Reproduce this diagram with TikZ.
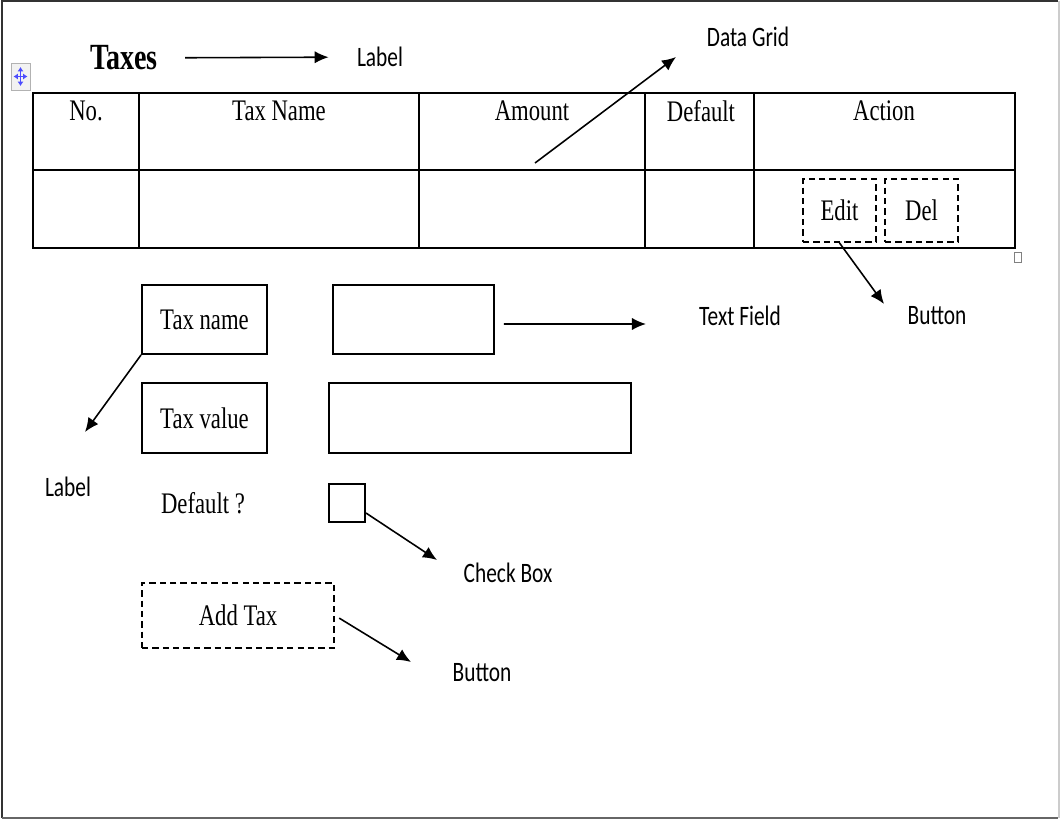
\documentclass[tikz,border=0pt]{standalone}
\usepackage{fontspec}
\setmainfont{Liberation Serif}
\newfontfamily\callout{Carlito}
\usetikzlibrary{arrows.meta,positioning}

\newcommand{\squeeze}[1]{\scalebox{0.76}[1]{#1}}

\begin{document}
\begin{tikzpicture}[x=0.02cm, y=-0.02cm,
  every node/.style={font=\fontsize{17}{20}\selectfont},
  grid/.style={line width=1.1pt},
  field/.style={draw, line width=1.1pt, inner sep=0pt},
  button/.style={draw, line width=1.1pt, dash pattern=on 3.6pt off 2.3pt, inner sep=0pt},
  caption/.style={font=\callout\fontsize{16}{19}\selectfont, inner sep=0pt},
  arr/.style={line width=0.9pt, -{Latex[length=8pt,width=7pt]}}]

\useasboundingbox (0,0) rectangle (1060,820);

% frame of the screenshot
\draw[line width=1.2pt, black!80] (2,818) -- (2,1) -- (1058,1);
\draw[line width=1.5pt, black!60] (2,818) -- (1058,818);
\draw[line width=1pt, black!20] (1059,1) -- (1059,818);

% table handles
\draw[black!30, fill=black!5] (11,63) rectangle (30,90);
\draw[blue!70, line width=0.9pt, {Latex[length=2.5pt,width=3.5pt]}-{Latex[length=2.5pt,width=3.5pt]}] (20.5,67) -- (20.5,86);
\draw[blue!70, line width=0.9pt, {Latex[length=2.5pt,width=3.5pt]}-{Latex[length=2.5pt,width=3.5pt]}] (13.5,76.5) -- (27.5,76.5);
\draw[black!50, fill=white, line width=0.5pt] (1014,252) rectangle (1021,262);

% heading
\node[font=\bfseries\fontsize{21}{24}\selectfont, inner sep=0pt] (title) at (124,58) {\squeeze{Taxes}};
\node[caption] (lbltitle) at (380,57) {\squeeze{Label}};
\draw[arr, shorten <=0.54cm, shorten >=0.56cm] (title) -- (lbltitle);

% data grid
\draw[grid] (33,93) rectangle (1015,248);
\draw[grid] (33,170) -- (1015,170);
\foreach \x in {139,419,645,754}
  \draw[grid] (\x,93) -- (\x,248);
\foreach \x/\t [count=\i] in {86/No.,279/Tax Name,532/Amount,701/Default,884/Action}
  \node (head\i) at (\x,111) {\squeeze{\t}};

\node[button, minimum width=1.46cm, minimum height=1.26cm] (edit) at (839.5,210.5) {\squeeze{Edit}};
\node[button, minimum width=1.46cm, minimum height=1.26cm] (del) at (921.5,210.5) {\squeeze{Del}};

\node[caption] (lblgrid) at (748,37) {\squeeze{Data Grid}};
\coordinate (gridfoot) at (535,163);
\coordinate (gridtip) at (676,57);
\draw[arr] (gridfoot) -- (gridtip);

\node[caption] (lblbutton) at (937,316) {\squeeze{Button}};
\coordinate (edittip) at (884,304);
\draw[arr] (edit.south) -- (edittip);

% form
\node[field, minimum width=2.5cm, minimum height=1.38cm] (taxname) at (204.5,319.5) {\squeeze{Tax name}};
\node[field, minimum width=3.22cm, minimum height=1.38cm] (namefield) at (413.5,319.5) {};
\node[caption] (lblfield) at (740,316) {\squeeze{Text Field}};
\coordinate (fieldtip) at (646,324);
\draw[arr] ([xshift=0.18cm, yshift=-0.09cm]namefield.east) -- (fieldtip);

\node[field, minimum width=2.5cm, minimum height=1.4cm] (taxvalue) at (204.5,418) {\squeeze{Tax value}};
\node[field, minimum width=6.04cm, minimum height=1.4cm] (valuefield) at (480,418) {};

\node[caption] (lbllabel) at (68,487) {\squeeze{Label}};
\coordinate (labeltip) at (85,432);
\draw[arr] (taxname.south west) -- (labeltip);

\node (default) at (203,503) {\squeeze{Default ?}};
\node[field, minimum width=0.72cm, minimum height=0.76cm] (check) at (347,503) {};
\node[caption] (lblcheck) at (508,573) {\squeeze{Check Box}};
\coordinate (checktip) at (437,560);
\draw[arr] ([yshift=-0.2cm]check.east) -- (checktip);

\node[button, minimum width=3.84cm, minimum height=1.3cm] (addtax) at (238,615.5) {\squeeze{Add Tax}};
\node[caption] (lbladd) at (482,673) {\squeeze{Button}};
\coordinate (addtip) at (411,662);
\draw[arr, shorten <=0.1cm] (addtax.east) -- (addtip);

\end{tikzpicture}
\end{document}
